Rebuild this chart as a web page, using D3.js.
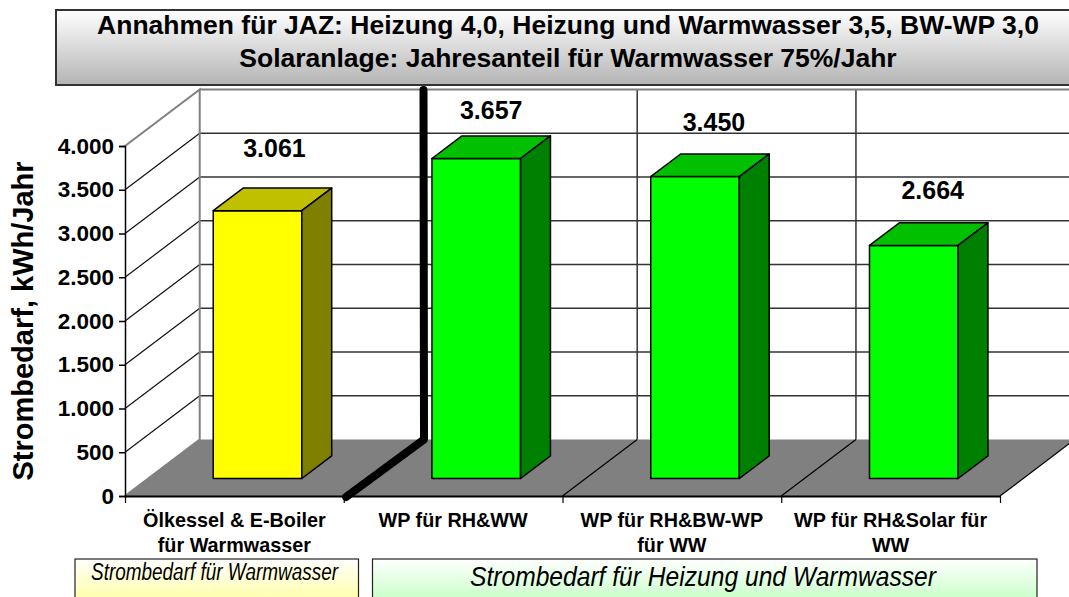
<!DOCTYPE html>
<html>
<head>
<meta charset="utf-8">
<script src="https://cdn.jsdelivr.net/npm/d3@7"></script>
<style>
	html, body { margin: 0; padding: 0; background: #fff; overflow: hidden; }
	svg { display: block; }
	text { font-family: "Liberation Sans", Arial, sans-serif; fill: #000; }
</style>
</head>
<body>
<svg id="chart" width="1069" height="597"></svg>
<script>
var categories = [
	["Ölkessel & E-Boiler", "für Warmwasser"],
	["WP für RH&WW"],
	["WP für RH&BW-WP", "für WW"],
	["WP für RH&Solar für", "WW"]
];
var values = [3061, 3657, 3450, 2664];
var yTicks = [0, 500, 1000, 1500, 2000, 2500, 3000, 3500, 4000];
var titleLines = [
	"Annahmen für JAZ: Heizung 4,0, Heizung und Warmwasser 3,5, BW-WP 3,0",
	"Solaranlage: Jahresanteil für Warmwasser 75%/Jahr"
];
var yTitle = "Strombedarf, kWh/Jahr";
var noteLeft = "Strombedarf für Warmwasser";
var noteRight = "Strombedarf für Heizung und Warmwasser";

// layout
var depthX = 74.7, depthY = 56.5,    // floor depth of the 3d box
	barDepth = 0.4, barOffset = 0.31,  // as a share of the floor depth
	labelLift = [40, 26, 32, 33],      // value labels were placed by hand in the original
	labelShift = [2, 0, 4, 4];

var de = d3.formatLocale({ decimal: ",", thousands: ".", grouping: [3], currency: ["", ""] }),
	fmt = de.format(",d");

var svg = d3.select("#chart");

var y = d3.scaleLinear().domain([0, 4000]).range([496, 146]);
var slot = d3.scaleLinear().domain([0, 4]).range([125, 1000]);
var x = d3.scaleBand().domain(d3.range(4)).range([125, 1000]).paddingInner(0.595).paddingOuter(0.2975);

var defs = svg.append("defs");

function gradient(id, top, bottom) {
	var g = defs.append("linearGradient").attr("id", id)
		.attr("x1", 0).attr("y1", 0).attr("x2", 0).attr("y2", 1);
	g.append("stop").attr("offset", "0%").attr("stop-color", top);
	g.append("stop").attr("offset", "100%").attr("stop-color", bottom);
}
gradient("gTitle", "#ffffff", "#b4b4b4");
gradient("gYellow", "#ffffff", "#ffff80");
gradient("gGreen", "#ffffff", "#b0ffb0");

///////////////// 3D BOX /////////////////

// floor
svg.append("path")
	.attr("fill", "#808080")
	.attr("d", d3.line()([
		[slot(0), y(0)], [slot(4), y(0)],
		[slot(4) + depthX, y(0) - depthY], [slot(0) + depthX, y(0) - depthY]
	]) + "Z");

// back wall gridlines
svg.selectAll("line.grid")
	.data(yTicks.slice(1, -1))
	.enter().append("line")
	.attr("class", "grid")
	.attr("x1", slot(0) + depthX).attr("x2", slot(4) + depthX)
	.attr("y1", d => y(d) - depthY).attr("y2", d => y(d) - depthY)
	.attr("stroke", "#333").attr("stroke-width", 1.5);

// side wall lines
svg.selectAll("line.side")
	.data(yTicks.slice(1, -1))
	.enter().append("line")
	.attr("class", "side")
	.attr("x1", slot(0)).attr("x2", slot(0) + depthX)
	.attr("y1", d => y(d)).attr("y2", d => y(d) - depthY)
	.attr("stroke", "#111").attr("stroke-width", 1.2);

// vertical lines on the back wall and their floor diagonals
svg.selectAll("line.back")
	.data([2, 3])
	.enter().append("line")
	.attr("class", "back")
	.attr("x1", d => slot(d) + depthX).attr("x2", d => slot(d) + depthX)
	.attr("y1", y(4000) - depthY).attr("y2", y(0) - depthY)
	.attr("stroke", "#333").attr("stroke-width", 1.5);

svg.selectAll("line.diag")
	.data([2, 3, 4])
	.enter().append("line")
	.attr("class", "diag")
	.attr("x1", d => slot(d)).attr("x2", d => slot(d) + depthX)
	.attr("y1", y(0)).attr("y2", y(0) - depthY)
	.attr("stroke", "#000").attr("stroke-width", 1.2);

// grey outline of the walls
svg.append("path")
	.attr("fill", "none").attr("stroke", "#808080").attr("stroke-width", 2)
	.attr("d", d3.line()([
		[slot(0), y(0)], [slot(0) + depthX, y(0) - depthY],
		[slot(0) + depthX, y(4000) - depthY], [slot(0), y(4000)]
	]));
svg.append("line")
	.attr("x1", slot(0) + depthX).attr("x2", slot(4) + depthX)
	.attr("y1", y(4000) - depthY).attr("y2", y(4000) - depthY)
	.attr("stroke", "#808080").attr("stroke-width", 2);

// axes
var yAxis = svg.append("g")
	.attr("transform", "translate(" + slot(0) + ",0)")
	.call(d3.axisLeft(y).tickValues(yTicks).tickFormat(fmt).tickSize(6).tickPadding(5));
yAxis.selectAll("text").style("font-size", "22.5px").style("font-weight", "bold");
yAxis.selectAll("line").attr("stroke", "#000").attr("stroke-width", 1.5);
yAxis.select(".domain").attr("stroke", "#000").attr("stroke-width", 1.5);

var xAxis = svg.append("g")
	.attr("transform", "translate(0," + y(0) + ")")
	.call(d3.axisBottom(slot).tickValues(d3.range(5)).tickFormat("").tickSize(7).tickSizeOuter(0));
xAxis.selectAll("line").attr("stroke", "#000").attr("stroke-width", 1.2);
xAxis.select(".domain").attr("stroke", "#000").attr("stroke-width", 2);

// thick divider, drawn by hand over the chart in the original
svg.append("path")
	.attr("fill", "none").attr("stroke", "#000").attr("stroke-width", 8)
	.attr("stroke-linejoin", "round").attr("stroke-linecap", "round")
	.attr("d", d3.line()([[346, 497], [424, 439.5], [423.5, 90]]));

///////////////// BARS /////////////////

var fills = [
	{ front: "#ffff00", top: "#c0c000", side: "#808000" },
	{ front: "#00ff00", top: "#00c000", side: "#008000" },
	{ front: "#00ff00", top: "#00c000", side: "#008000" },
	{ front: "#00ff00", top: "#00c000", side: "#008000" }
];

var bars = svg.selectAll("g.bar")
	.data(values)
	.enter().append("g")
	.attr("class", "bar")
	.attr("transform", "translate(" + depthX * barOffset + "," + (-depthY * barOffset) + ")");

var dx = depthX * barDepth, dy = depthY * barDepth;

function face(pts, color) {
	return function(sel) {
		sel.append("path")
			.attr("fill", (d, i) => fills[i][color])
			.attr("stroke", "#000").attr("stroke-width", 1.5)
			.attr("stroke-linejoin", "round")
			.attr("d", (d, i) => d3.line()(pts(d, i)) + "Z");
	};
}

bars.call(face((d, i) => {
	var l = x(i), r = l + x.bandwidth();
	return [[l, y(d)], [r, y(d)], [r, y(0)], [l, y(0)]];
}, "front"));
bars.call(face((d, i) => {
	var l = x(i), r = l + x.bandwidth();
	return [[l, y(d)], [r, y(d)], [r + dx, y(d) - dy], [l + dx, y(d) - dy]];
}, "top"));
bars.call(face((d, i) => {
	var r = x(i) + x.bandwidth();
	return [[r, y(d)], [r + dx, y(d) - dy], [r + dx, y(0) - dy], [r, y(0)]];
}, "side"));

bars.append("text")
	.attr("text-anchor", "middle")
	.attr("dominant-baseline", "central")
	.attr("x", (d, i) => x(i) + x.bandwidth() / 2 + dx / 2 + labelShift[i])
	.attr("y", (d, i) => y(d) - dy - labelLift[i])
	.style("font-size", "25px").style("font-weight", "bold")
	.text(d => fmt(d));

///////////////// TEXT /////////////////

svg.append("text")
	.attr("transform", "translate(33,321) rotate(-90)")
	.attr("text-anchor", "middle")
	.style("font-size", "29px").style("font-weight", "bold")
	.text(yTitle);

categories.forEach(function(lines, i) {
	lines.forEach(function(line, j) {
		svg.append("text")
			.attr("x", slot(i + 0.5))
			.attr("y", 527 + j * 25)
			.attr("text-anchor", "middle")
			.style("font-size", "19.8px").style("font-weight", "bold")
			.text(line);
	});
});

// title box
svg.append("rect")
	.attr("x", 56).attr("y", 10).attr("width", 1030).attr("height", 75)
	.attr("fill", "url(#gTitle)").attr("stroke", "#333").attr("stroke-width", 2);

titleLines.forEach(function(line, i) {
	svg.append("text")
		.attr("x", 568).attr("y", 33.5 + i * 33)
		.attr("text-anchor", "middle")
		.style("font-size", "26.5px").style("font-weight", "bold")
		.text(line);
});

// notes under the chart
svg.append("rect")
	.attr("x", 75).attr("y", 559).attr("width", 283.5).attr("height", 60)
	.attr("fill", "url(#gYellow)").attr("stroke", "#222").attr("stroke-width", 1.2);
svg.append("rect")
	.attr("x", 372.5).attr("y", 559).attr("width", 664.5).attr("height", 60)
	.attr("fill", "url(#gGreen)").attr("stroke", "#222").attr("stroke-width", 1.2);

svg.append("text")
	.attr("x", 214.5).attr("y", 580)
	.attr("text-anchor", "middle")
	.attr("textLength", 247).attr("lengthAdjust", "spacingAndGlyphs")
	.style("font-style", "italic").style("font-size", "23px")
	.text(noteLeft);
svg.append("text")
	.attr("x", 703).attr("y", 585.5)
	.attr("text-anchor", "middle")
	.attr("textLength", 466).attr("lengthAdjust", "spacingAndGlyphs")
	.style("font-style", "italic").style("font-size", "28px")
	.text(noteRight);
</script>
</body>
</html>
